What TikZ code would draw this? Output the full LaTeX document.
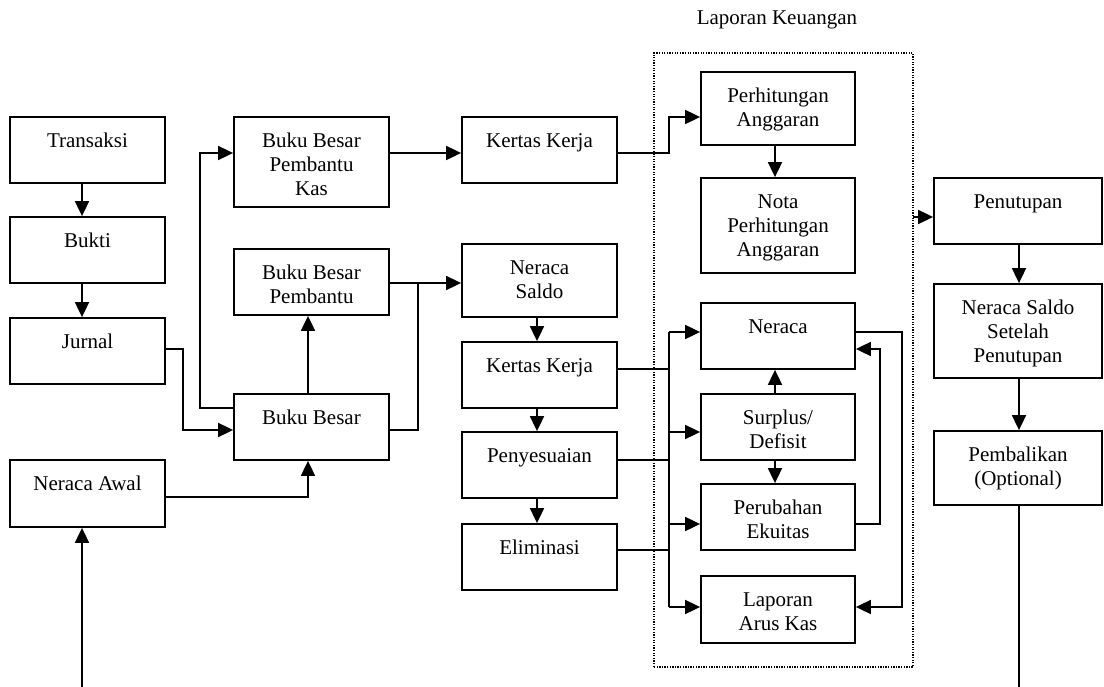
\documentclass[tikz,border=0pt]{standalone}
\usepackage{fontspec}
\setmainfont{Liberation Serif}
\usetikzlibrary{arrows.meta}
\tikzset{
  bx/.style={draw, line width=1.8pt, inner sep=0pt},
  tx/.style={anchor=north, inner sep=0pt, align=center, font=\fontsize{21}{24}\selectfont},
  ln/.style={line width=1.8pt},
  arr/.style={line width=1.8pt, -{Triangle[length=15pt,width=14pt]}},
  dotbox/.style={draw, line width=1.4pt, dash pattern=on 1.3pt off 1.3pt, inner sep=0pt},
}
\newcommand\mybox[6]{%
  \node[bx, minimum width={#4-#2}, minimum height={#5-#3}] (#1) at ({(#2+#4)/2},{(#3+#5)/2}) {};
  \node[tx] (#1-t) at ({(#2+#4)/2},{#3+13.5}) {\rule{0pt}{17pt}#6};
}
\begin{document}
\begin{tikzpicture}[x=1pt,y=-1pt]
\useasboundingbox (0,0) rectangle (1104,687);
% dotted frame
\node[dotbox, minimum width=259, minimum height=614] (lk) at (783.5,360) {};
\node[anchor=base, inner sep=0pt, font=\fontsize{21}{24}\selectfont] (lk-t) at (777,25) {Laporan Keuangan};
% column 1
\mybox{trans}{10}{117}{165}{183}{Transaksi}
\mybox{bukti}{10}{217}{165}{283}{Bukti}
\mybox{jurnal}{10}{318}{165}{384}{Jurnal}
\mybox{nawal}{10}{460}{165}{527}{Neraca Awal}
% column 2
\mybox{bbpk}{234}{117}{389}{207}{Buku Besar\\Pembantu\\Kas}
\mybox{bbp}{234}{249}{389}{315}{Buku Besar\\Pembantu}
\mybox{bb}{234}{394}{389}{460}{Buku Besar}
% column 3
\mybox{kka}{462}{117}{617}{183}{Kertas Kerja}
\mybox{ns}{462}{244}{617}{317}{Neraca\\Saldo}
\mybox{kkb}{462}{342}{617}{408}{Kertas Kerja}
\mybox{peny}{462}{432}{617}{498}{Penyesuaian}
\mybox{elim}{462}{524}{617}{590}{Eliminasi}
% column 4
\mybox{pa}{701}{72}{855}{145}{Perhitungan\\Anggaran}
\mybox{npa}{701}{178}{855}{273}{Nota\\Perhitungan\\Anggaran}
\mybox{ner}{701}{303}{855}{369}{Neraca}
\mybox{sd}{701}{394}{855}{460}{Surplus/\\Defisit}
\mybox{pe}{701}{484}{855}{550}{Perubahan\\Ekuitas}
\mybox{lak}{701}{576}{855}{643}{Laporan\\Arus Kas}
% column 5
\mybox{pen}{934}{178}{1102}{244}{Penutupan}
\mybox{nsp}{934}{284}{1102}{378}{Neraca Saldo\\Setelah\\Penutupan}
\mybox{pemb}{934}{431}{1102}{505}{Pembalikan\\(Optional)}
% junction coordinates
\coordinate (a1) at (183,349); \coordinate (a2) at (183,430);
\coordinate (b1) at (200,408); \coordinate (b2) at (200,153);
\coordinate (c1) at (308,497);
\coordinate (d0) at (82,687);
\coordinate (f1) at (418,283); \coordinate (f2) at (418,430);
\coordinate (g1) at (669,153); \coordinate (g2) at (669,117);
\coordinate (h0) at (537,0);
\coordinate (k1) at (669,332); \coordinate (k2) at (669,432);
\coordinate (k3) at (669,524); \coordinate (k4) at (669,607);
\coordinate (m1) at (669,369); \coordinate (m2) at (669,460); \coordinate (m3) at (669,550);
\coordinate (n0) at (775,0);
\coordinate (p1) at (902,332); \coordinate (p2) at (902,607);
\coordinate (q1) at (880,524); \coordinate (q2) at (880,349);
\coordinate (r1) at (913,217);
\coordinate (s0) at (1019,687);
% connectors column 1-2
\draw[arr] (trans.south -| d0) -- (bukti.north -| d0);
\draw[arr] (bukti.south -| d0) -- (jurnal.north -| d0);
\draw[arr] (d0) -- (nawal.south -| d0);
\draw[arr] (jurnal.east |- a1) -- (a1) -- (a2) -- (bb.west |- a2);
\draw[arr] (bb.west |- b1) -- (b1) -- (b2) -- (bbpk.west |- b2);
\draw[arr] (nawal.east |- c1) -- (c1) -- (bb.south -| c1);
\draw[arr] (bb.north -| c1) -- (bbp.south -| c1);
\draw[arr] (bbpk.east |- b2) -- (kka.west |- b2);
\draw[arr] (bbp.east |- f1) -- (ns.west |- f1);
\draw[ln] (bb.east |- f2) -- (f2) -- (f1);
% column 3
\draw[arr] (kka.east |- g1) -- (g1) -- (g2) -- (pa.west |- g2);
\draw[arr] (ns.south -| h0) -- (kkb.north -| h0);
\draw[arr] (kkb.south -| h0) -- (peny.north -| h0);
\draw[arr] (peny.south -| h0) -- (elim.north -| h0);
\draw[ln] (kkb.east |- m1) -- (m1);
\draw[ln] (peny.east |- m2) -- (m2);
\draw[ln] (elim.east |- m3) -- (m3);
\draw[ln] (k1) -- (k4);
\draw[arr] (k1) -- (ner.west |- k1);
\draw[arr] (k2) -- (sd.west |- k2);
\draw[arr] (k3) -- (pe.west |- k3);
\draw[arr] (k4) -- (lak.west |- k4);
% column 4
\draw[arr] (pa.south -| n0) -- (npa.north -| n0);
\draw[arr] (sd.north -| n0) -- (ner.south -| n0);
\draw[arr] (sd.south -| n0) -- (pe.north -| n0);
\draw[arr] (ner.east |- p1) -- (p1) -- (p2) -- (lak.east |- p2);
\draw[arr] (pe.east |- q1) -- (q1) -- (q2) -- (ner.east |- q2);
% column 5
\draw[arr] (r1) -- (pen.west |- r1);
\draw[arr] (pen.south -| s0) -- (nsp.north -| s0);
\draw[arr] (nsp.south -| s0) -- (pemb.north -| s0);
\draw[ln] (pemb.south -| s0) -- (s0);
\end{tikzpicture}
\end{document}
